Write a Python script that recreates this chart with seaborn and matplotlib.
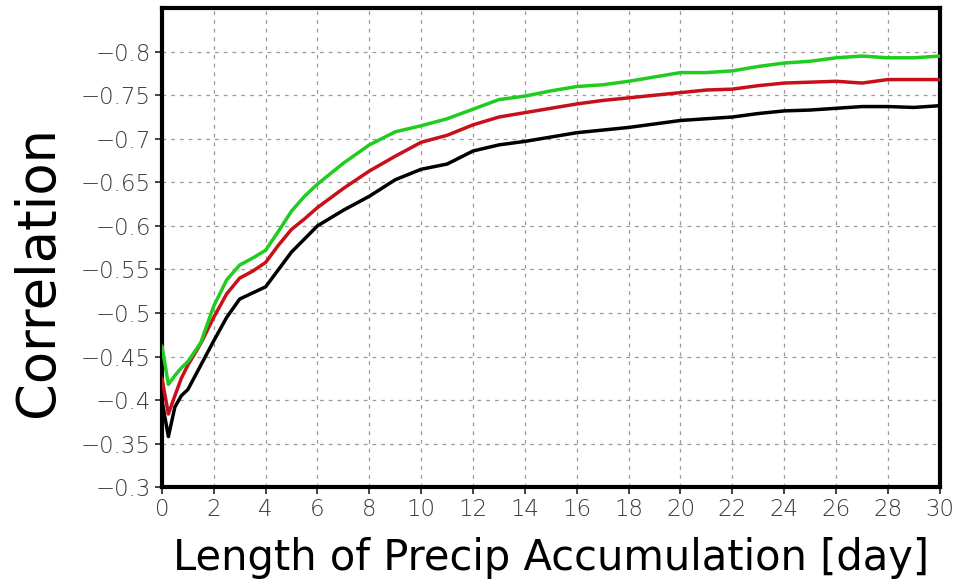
import numpy as np
import pandas as pd
import matplotlib
matplotlib.use("Agg")
import matplotlib.pyplot as plt
import seaborn as sns

# ---- data ----
days = [0, 0.25, 0.5, 0.75, 1, 1.5, 2, 2.5, 3, 3.5, 4, 4.5, 5, 5.5, 6, 7, 8, 9, 10,
        11, 12, 13, 14, 15, 16, 17, 18, 19, 20, 21, 22, 23, 24, 25, 26, 27, 28, 29, 30]

corr_green = [-0.462, -0.418, -0.428, -0.437, -0.444, -0.466, -0.508, -0.538, -0.555,
              -0.563, -0.572, -0.594, -0.617, -0.634, -0.648, -0.672, -0.693, -0.708,
              -0.715, -0.723, -0.734, -0.745, -0.749, -0.755, -0.760, -0.762, -0.766,
              -0.771, -0.776, -0.776, -0.778, -0.783, -0.787, -0.789, -0.793, -0.795,
              -0.793, -0.793, -0.795]

corr_red = [-0.425, -0.384, -0.405, -0.425, -0.440, -0.465, -0.495, -0.522, -0.540,
            -0.548, -0.558, -0.578, -0.596, -0.608, -0.621, -0.643, -0.663, -0.680,
            -0.696, -0.704, -0.716, -0.725, -0.730, -0.735, -0.740, -0.744, -0.747,
            -0.750, -0.753, -0.756, -0.757, -0.761, -0.764, -0.765, -0.766, -0.764,
            -0.768, -0.768, -0.768]

corr_black = [-0.400, -0.358, -0.392, -0.405, -0.412, -0.440, -0.468, -0.495, -0.516,
              -0.523, -0.530, -0.550, -0.570, -0.585, -0.600, -0.618, -0.634, -0.653,
              -0.665, -0.671, -0.686, -0.693, -0.697, -0.702, -0.707, -0.710, -0.713,
              -0.717, -0.721, -0.723, -0.725, -0.729, -0.732, -0.733, -0.735, -0.737,
              -0.737, -0.736, -0.738]

x_ticks = list(range(0, 31, 2))
x_tick_labels = [str(v) for v in x_ticks]
y_ticks = [-0.8, -0.75, -0.7, -0.65, -0.6, -0.55, -0.5, -0.45, -0.4, -0.35, -0.3]
y_tick_labels = ["\u22120.8", "\u22120.75", "\u22120.7", "\u22120.65", "\u22120.6",
                 "\u22120.55", "\u22120.5", "\u22120.45", "\u22120.4", "\u22120.35",
                 "\u22120.3"]

series_names = ["green", "red", "black"]
series_colors = ["#1fcc1f", "#c8101a", "#000000"]

df = pd.concat([
    pd.DataFrame({"day": days, "corr": vals, "series": name})
    for name, vals in zip(series_names, [corr_green, corr_red, corr_black])
], ignore_index=True)

sns.set_theme(style="white")
plt.rcParams["font.family"] = ["DejaVu Sans"]

fig = plt.figure(figsize=(9.58, 5.82), dpi=100)
ax = fig.add_axes([0.169, 0.163, 0.812, 0.823])

# grid
for xv in x_ticks[1:-1]:
    ax.axvline(xv, color="#9a9a9a", lw=0.9, ls=(0, (3, 4)), zorder=0)
for yv in y_ticks[:-1]:
    ax.axhline(yv, color="#9a9a9a", lw=0.9, ls=(0, (3, 4)), zorder=0)

sns.lineplot(data=df, x="day", y="corr", hue="series",
             palette=dict(zip(series_names, series_colors)),
             hue_order=["black", "red", "green"],
             linewidth=2.5, legend=False, ax=ax, zorder=3)

ax.set_xlim(0, 30)
ax.set_ylim(-0.3, -0.85)
ax.set_xticks(x_ticks)
ax.set_xticklabels(x_tick_labels)
ax.set_yticks(y_ticks)
ax.set_yticklabels(y_tick_labels)

ax.tick_params(axis="both", direction="out", length=5, width=1.2, color="#222222",
               labelsize=16.5, labelcolor="#3a3a3a", pad=3,
               left=True, bottom=True)
for lab in ax.get_xticklabels() + ax.get_yticklabels():
    lab.set_fontweight("light")

for sp in ax.spines.values():
    sp.set_visible(True)
    sp.set_color("black")
    sp.set_linewidth(3)

ax.set_xlabel("Length of Precip Accumulation [day]", fontsize=30, color="black",
              va="center")
ax.xaxis.set_label_coords(0.5, -0.148)
ax.set_ylabel("Correlation", fontsize=38, color="black", va="center")
ax.yaxis.set_label_coords(-0.159, 0.45)

fig.savefig("out.png", dpi=100, facecolor="white")
